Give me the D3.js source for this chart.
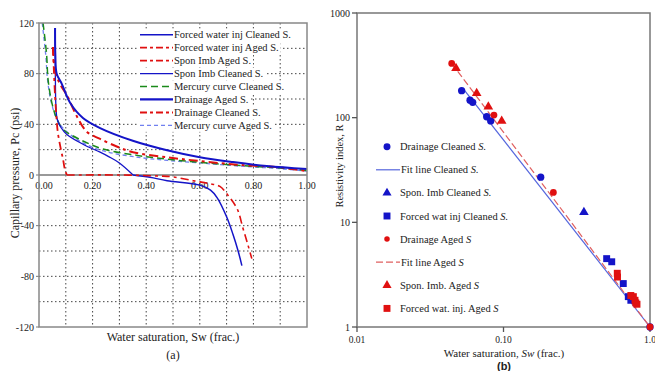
<!DOCTYPE html>
<html><head><meta charset="utf-8">
<script src="https://cdn.jsdelivr.net/npm/d3@7"></script>
<style>body{margin:0;background:#fff}svg{display:block}svg text{font-family:"Liberation Serif","DejaVu Serif",serif;fill:#222}</style>
</head><body><svg id="c" width="655" height="371" font-family="Liberation Serif, DejaVu Serif, serif"></svg>
<script>
// ---------- Left chart (a): capillary pressure curves [Sw, Pc] ----------
const forcedInjCleaned = [[0.351,0],[0.414,-1.8],[0.478,-4.5],[0.60,-8],[0.64,-12],[0.665,-18],[0.70,-33],[0.724,-47],[0.743,-60],[0.757,-71.5]];
const forcedInjAged = [[0.104,0],[0.30,0],[0.45,-0.8],[0.50,-1.5],[0.575,-4.5],[0.64,-7],[0.675,-9],[0.705,-16],[0.74,-27],[0.761,-42],[0.78,-55.5],[0.794,-66]];
const sponImbAged = [[0.052,101],[0.055,85],[0.06,62],[0.065,46],[0.07,34],[0.08,22],[0.09,12],[0.097,4],[0.104,0]];
const sponImbCleaned = [[0.06,116],[0.061,80],[0.063,55],[0.068,44],[0.082,37.5],[0.104,32],[0.164,24.3],[0.228,18],[0.26,14.5],[0.30,9.5],[0.351,0]];
const mercuryCleaned = [[0.015,120],[0.028,96],[0.034,75],[0.048,57],[0.067,44],[0.09,36],[0.153,28],[0.239,20.5],[0.366,15.5],[0.478,12.5],[0.60,10],[0.75,7.5],[0.9,5.5],[1.0,3.5]];
const drainageAged = [[0.06,116],[0.061,95],[0.066,80],[0.085,72],[0.116,57],[0.164,45],[0.228,37],[0.35,27],[0.478,19.5],[0.60,14],[0.724,10.2],[0.85,7.1],[1.0,4.7]];
const drainageCleaned = [[0.052,101],[0.06,82],[0.078,72],[0.104,63],[0.142,46],[0.179,34],[0.228,28.5],[0.29,22.5],[0.351,18],[0.478,14],[0.60,11],[0.75,8],[0.9,6],[1.0,3]];
const mercuryAged = [[0.012,120],[0.025,95],[0.032,75],[0.045,58],[0.065,45],[0.09,37],[0.15,27],[0.24,19],[0.37,14],[0.48,11.5],[0.60,9.5],[0.75,7],[0.9,5],[1.0,3]];
const leftLegend = ["Forced water inj Cleaned S.","Forced water inj Aged S.","Spon Imb Aged S.","Spon Imb Cleaned S.","Mercury curve Cleaned S.","Drainage Aged S.","Drainage Cleaned S.","Mercury curve Aged S."];
const leftXTicks = [0,0.2,0.4,0.6,0.8,1.0];
const leftYTicks = [120,80,40,0,-40,-80,-120];

// ---------- Right chart (b): resistivity index [Sw, R] ----------
const drainCleanedPts = [[1.0,1],[0.0518,181],[0.0591,147],[0.0616,140],[0.0768,102],[0.0818,93],[0.1795,27]];
const sponCleanedPts = [[0.354,12.5]];
const forcedCleanedPts = [[0.506,4.5],[0.548,4.2],[0.657,2.6],[0.711,1.95],[0.74,1.8]];
const drainAgedPts = [[0.0443,330],[0.0861,106],[0.219,19.3],[1.0,1]];
const sponAgedPts = [[0.0474,296],[0.0656,171],[0.0788,127],[0.0972,93]];
const forcedAgedPts = [[0.598,3.26],[0.600,3.0],[0.74,2.0],[0.77,1.95],[0.79,1.8],[0.80,1.7],[0.815,1.65]];
const fitCleaned = [[0.0527,192],[1.0,1]];
const fitAged = [[0.0443,330],[1.0,1]];
const rightLegend = ["Drainage Cleaned S.","Fit line Cleaned S.","Spon. Imb Cleaned S.","Forced wat inj Cleaned S.","Drainage Aged S","Fit line Aged S","Spon. Imb. Aged S","Forced wat. inj. Aged S"];
const rightXTicks = [0.01,0.1,1];
const rightXLabels = ["0.01","0.10","1.0"];
const rightYTicks = [1,10,100,1000];

const BLUE="#1414c8", RED="#e01010", GREEN="#1a8a1a", LBLUE="#7080f0";
const svg = d3.select("#c");

// ================= LEFT =================
const L = {x0:39,x1:307,y0:23,y1:327};
const sx = d3.scaleLinear().domain([0,1]).range([L.x0,L.x1]);
const sy = d3.scaleLinear().domain([-120,120]).range([L.y1,L.y0]);
const gl = svg.append("g");
d3.range(1,10).forEach(i=>{
  gl.append("line").attr("x1",sx(i/10)).attr("x2",sx(i/10)).attr("y1",L.y0).attr("y2",L.y1)
    .attr("stroke","#444").attr("stroke-width",1).attr("stroke-dasharray","1.5,2.5");
});
d3.range(-100,101,20).filter(v=>v!==0).forEach(v=>{
  gl.append("line").attr("x1",L.x0).attr("x2",L.x1).attr("y1",sy(v)).attr("y2",sy(v))
    .attr("stroke","#444").attr("stroke-width",1).attr("stroke-dasharray","1.5,2.5");
});
gl.append("line").attr("x1",L.x0).attr("x2",L.x1).attr("y1",sy(0)).attr("y2",sy(0)).attr("stroke","#777").attr("stroke-width",1.3);
leftYTicks.forEach(v=>{
  gl.append("text").attr("x",L.x0-5).attr("y",sy(v)+3.5).attr("text-anchor","end").attr("font-size",10).text(v);
  gl.append("line").attr("x1",L.x0-3).attr("x2",L.x0).attr("y1",sy(v)).attr("y2",sy(v)).attr("stroke","#777");
});
leftXTicks.forEach(v=>{
  gl.append("text").attr("x",sx(v)+(v===0?5:0)).attr("y",sy(0)+14).attr("text-anchor","middle").attr("font-size",10).text(v.toFixed(2));
});
const line = d3.line().x(d=>sx(d[0])).y(d=>sy(d[1])).curve(d3.curveCatmullRom.alpha(0.5));
const curveDefs = [
  {d:mercuryAged,c:LBLUE,w:1.3,da:"4,3"},
  {d:mercuryCleaned,c:GREEN,w:1.5,da:"7,4"},
  {d:sponImbCleaned,c:BLUE,w:1.3,da:null},
  {d:forcedInjCleaned,c:BLUE,w:1.5,da:null},
  {d:sponImbAged,c:RED,w:1.8,da:"8,4,3,4"},
  {d:forcedInjAged,c:RED,w:1.6,da:"8,4,3,4"},
  {d:drainageCleaned,c:RED,w:2,da:"9,4,3,4"},
  {d:drainageAged,c:BLUE,w:2,da:null}
];
curveDefs.forEach(k=>{
  gl.append("path").attr("d",line(k.d)).attr("fill","none").attr("stroke",k.c).attr("stroke-width",k.w)
    .attr("stroke-dasharray",k.da);
});
gl.append("rect").attr("x",L.x0).attr("y",L.y0).attr("width",L.x1-L.x0).attr("height",L.y1-L.y0)
  .attr("fill","none").attr("stroke","#888").attr("stroke-width",1.5);
const legStyles = [
  {c:BLUE,w:1.5,da:null},{c:RED,w:1.8,da:"7,3,3,3"},{c:RED,w:1.8,da:"7,3,3,3"},{c:BLUE,w:1.3,da:null},
  {c:GREEN,w:1.5,da:"7,4"},{c:BLUE,w:2.2,da:null},{c:RED,w:2,da:"7,3,3,3"},{c:LBLUE,w:1.3,da:"4,3"}
];
const lg = gl.append("g").attr("font-size",10.5);
leftLegend.forEach((t,i)=>{
  const y = 34.7 + i*12.95;
  const tx = lg.append("text").attr("x",174).attr("y",y+3.5).text(t);
  const w = tx.node().getComputedTextLength();
  lg.insert("rect","text").attr("x",139).attr("y",y-6).attr("width",174+w-139+2).attr("height",12.5).attr("fill","#fff");
  lg.append("line").attr("x1",140).attr("x2",173).attr("y1",y).attr("y2",y)
    .attr("stroke",legStyles[i].c).attr("stroke-width",legStyles[i].w).attr("stroke-dasharray",legStyles[i].da);
});
svg.append("text").attr("transform","translate(19,173) rotate(-90)").attr("text-anchor","middle").attr("font-size",12)
  .text("Capillary pressure, Pc (psi)");
svg.append("text").attr("x",173).attr("y",341).attr("text-anchor","middle").attr("font-size",12).text("Water saturation, Sw (frac.)");
svg.append("text").attr("x",173).attr("y",359).attr("text-anchor","middle").attr("font-size",12).text("(a)");

// ================= RIGHT =================
const R = {x0:357,x1:650,y0:13,y1:327};
const rx = d3.scaleLog().domain([0.01,1]).range([R.x0,R.x1]);
const ry = d3.scaleLog().domain([1,1000]).range([R.y1,R.y0]);
const gr = svg.append("g");
gr.append("rect").attr("x",R.x0).attr("y",R.y0).attr("width",R.x1-R.x0).attr("height",R.y1-R.y0)
  .attr("fill","none").attr("stroke","#777").attr("stroke-width",1.5);
rightYTicks.forEach(v=>{
  gr.append("line").attr("x1",R.x0-5).attr("x2",R.x0).attr("y1",ry(v)).attr("y2",ry(v)).attr("stroke","#555").attr("stroke-width",1.3);
  gr.append("text").attr("x",R.x0-7).attr("y",ry(v)+3.5).attr("text-anchor","end").attr("font-size",10).text(v);
});
rightXTicks.forEach((v,i)=>{
  gr.append("line").attr("x1",rx(v)).attr("x2",rx(v)).attr("y1",R.y1).attr("y2",R.y1+5).attr("stroke","#555").attr("stroke-width",1.3);
  gr.append("text").attr("x",rx(v)).attr("y",343).attr("text-anchor","middle").attr("font-size",9.5).text(rightXLabels[i]);
});
const rline = d3.line().x(d=>rx(d[0])).y(d=>ry(d[1]));
gr.append("path").attr("d",rline(fitCleaned)).attr("fill","none").attr("stroke","#5566dd").attr("stroke-width",1.2);
gr.append("path").attr("d",rline(fitAged)).attr("fill","none").attr("stroke","#e06060").attr("stroke-width",1.2).attr("stroke-dasharray","7,3");
const sym = (type,size)=>d3.symbol().type(type).size(size)();
function pts(data,type,size,color){
  gr.selectAll(null).data(data).enter().append("path")
    .attr("d",sym(type,size)).attr("transform",d=>`translate(${rx(d[0])},${ry(d[1])})`).attr("fill",color);
}
pts(drainCleanedPts,d3.symbolCircle,42,BLUE);
pts(sponCleanedPts,d3.symbolTriangle,40,BLUE);
pts(forcedCleanedPts,d3.symbolSquare,48,BLUE);
pts(drainAgedPts,d3.symbolCircle,36,RED);
pts(sponAgedPts,d3.symbolTriangle,40,RED);
pts(forcedAgedPts,d3.symbolSquare,48,RED);
const rl = [
  {t:"sym",s:d3.symbolCircle,z:38,c:BLUE},{t:"line",c:"#5566dd",da:null},{t:"sym",s:d3.symbolTriangle,z:36,c:BLUE},
  {t:"sym",s:d3.symbolSquare,z:48,c:BLUE},{t:"sym",s:d3.symbolCircle,z:24,c:RED},{t:"line",c:"#e06060",da:"7,3"},
  {t:"sym",s:d3.symbolTriangle,z:36,c:RED},{t:"sym",s:d3.symbolSquare,z:48,c:RED}
];
rightLegend.forEach((t,i)=>{
  const y = 146.7 + i*23.1;
  const k = rl[i];
  if(k.t==="sym") gr.append("path").attr("d",sym(k.s,k.z)).attr("transform",`translate(387,${y})`).attr("fill",k.c);
  else gr.append("line").attr("x1",376).attr("x2",400).attr("y1",y).attr("y2",y).attr("stroke",k.c).attr("stroke-width",1.2).attr("stroke-dasharray",k.da);
  const tx = gr.append("text").attr("x",k.t==="line"?401:400).attr("y",y+3.5).attr("font-size",10.5);
  const m = t.match(/^(.*?)(S\.?)$/);
  tx.append("tspan").text(m[1]);
  tx.append("tspan").attr("font-style","italic").text(m[2]);
});
const xt = svg.append("text").attr("x",504).attr("y",357).attr("text-anchor","middle").attr("font-size",11);
xt.append("tspan").text("Water saturation, ");
xt.append("tspan").attr("font-style","italic").text("Sw");
xt.append("tspan").text(" (frac.)");
svg.append("text").attr("x",504).attr("y",370).attr("text-anchor","middle").attr("font-size",11)
  .style("font-family","'Liberation Sans',Arial,sans-serif").attr("font-weight","bold").text("(b)");
svg.append("text").attr("transform","translate(343,166) rotate(-90)").attr("text-anchor","middle").attr("font-size",10.5)
  .text("Resistivity index, R");
</script></body></html>
